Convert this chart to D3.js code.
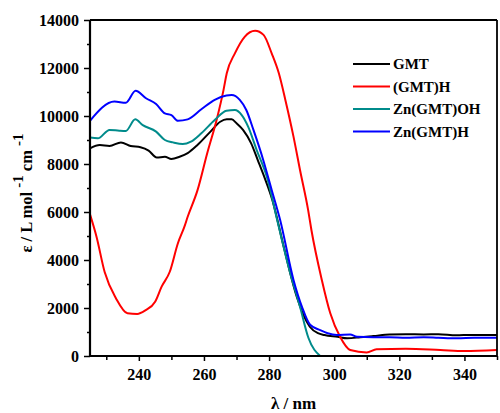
<!DOCTYPE html>
<html><head><meta charset="utf-8">
<script src="https://cdn.jsdelivr.net/npm/d3@7"></script>
<style>
body{margin:0;background:#fff;}
text{font-family:"Liberation Serif","Times New Roman",serif;font-weight:bold;}
</style></head>
<body><svg id="c" width="500" height="413"></svg>
<script>
// ---- data ----
const seriesNames = ["GMT", "(GMT)H", "Zn(GMT)OH", "Zn(GMT)H"];
const seriesColors = ["#000000", "#ff0000", "#008b8b", "#0000ff"];

const wlGMT  = [225,228,231,234.5,237.5,240.5,243,245.5,248,250,252.5,255,258,262,265,267,268.5,270,272,274.5,276.5,278.5,281,284.5,288.5,292.5,295,297,301,304,308,312,317,322,327.5,332,337.5,342,346,350];
const valGMT = [8650,8790,8750,8900,8750,8700,8560,8270,8300,8210,8300,8450,8790,9350,9760,9860,9860,9700,9420,8860,8170,7470,6500,4550,2470,1220,950,875,800,740,780,830,900,910,900,910,860,880,870,875];

const wlGMTH  = [225,227,229.5,233,236.5,239.5,242,245,247,249.5,252,254,255,258,261,264,266,267,269.5,272.5,275.7,278.3,280.8,283,285,287.5,289.5,292,293,296.2,298.8,301.8,304.9,310,313,322,332.6,340,350];
const valGMTH = [5900,4970,3500,2400,1780,1750,1900,2260,2890,3510,4700,5390,5800,6900,8450,9900,11080,11780,12610,13300,13550,13380,12610,11780,10670,9140,7750,6080,5250,3170,1780,800,250,150,280,300,250,210,250];

const wlZnOH  = [225,227.4,231,234,236,238.9,241.2,245.3,248,250.5,253.5,256,259.2,263.3,266.9,269.5,271.6,273.6,276.2,279.3,282.6,286.5,289.5,292.1,295.7];
const valZnOH = [9100,9070,9420,9390,9380,9860,9620,9350,9000,8900,8830,8930,9280,9830,10220,10250,10040,9550,8580,7470,5600,3450,2050,750,0];

const wlZnH  = [225,232.5,236,239,242.2,245.3,248,250,252,255,259.2,263.3,266.9,268.5,271,273,275.2,278.2,280.8,283.4,287.5,290.1,292.6,295.7,298,300.8,304.9,307,312,317,322,327.5,332,337.8,343,350];
const valZnH = [9800,10600,10550,11050,10740,10500,10110,10040,9800,9860,10280,10670,10850,10870,10670,10250,9420,8170,6920,5670,3170,2050,1300,1080,950,880,900,800,780,780,760,780,760,740,760,760];

const xTicks = [240,260,280,300,320,340];
const yTicks = [0,2000,4000,6000,8000,10000,12000,14000];

// ---- chart ----
const svg = d3.select("#c");
const L = 90, R = 497, T = 20, B = 356;
const x = d3.scaleLinear().domain([225,350]).range([L,R]);
const y = d3.scaleLinear().domain([0,14000]).range([B,T]);

const series = [
  {name: seriesNames[0], color: seriesColors[0], wl: wlGMT, v: valGMT},
  {name: seriesNames[1], color: seriesColors[1], wl: wlGMTH, v: valGMTH},
  {name: seriesNames[2], color: seriesColors[2], wl: wlZnOH, v: valZnOH},
  {name: seriesNames[3], color: seriesColors[3], wl: wlZnH, v: valZnH}
];

svg.append("clipPath").attr("id","clip").append("rect")
  .attr("x",L).attr("y",T).attr("width",R-L).attr("height",B-T);

const line = d3.line().x(d=>x(d[0])).y(d=>y(d[1])).curve(d3.curveMonotoneX);
const g = svg.append("g").attr("clip-path","url(#clip)");
series.forEach(s=>{
  g.append("path").datum(s.wl.map((w,i)=>[w,s.v[i]]))
   .attr("d",line).attr("fill","none").attr("stroke",s.color)
   .attr("stroke-width",2).attr("stroke-linejoin","round");
});

// x axis
const xMinor = d3.range(230,351,10).filter(v=>!xTicks.includes(v));
const xa = svg.append("g").attr("transform",`translate(0,${B})`);
xa.call(d3.axisBottom(x).tickValues(xTicks).tickSize(5).tickPadding(8).tickFormat(d3.format("d")));
xa.append("g").call(d3.axisBottom(x).tickValues(xMinor).tickSize(4).tickFormat(""));
xa.selectAll(".domain").remove();
xa.selectAll("line").attr("stroke","#000").attr("stroke-width",1.5);
xa.selectAll("text").attr("font-size",16).attr("fill","#000")
  .style("font-family","'Liberation Serif',serif").style("font-weight","bold");

// y axis
const yMinor = d3.range(1000,14000,2000);
const ya = svg.append("g").attr("transform",`translate(${L},0)`);
ya.call(d3.axisLeft(y).tickValues(yTicks).tickSize(6).tickPadding(5).tickFormat(d3.format("d")));
ya.append("g").call(d3.axisLeft(y).tickValues(yMinor).tickSize(3).tickFormat(""));
ya.selectAll(".domain").remove();
ya.selectAll("line").attr("stroke","#000").attr("stroke-width",1.5);
ya.selectAll("text").attr("font-size",16).attr("fill","#000")
  .style("font-family","'Liberation Serif',serif").style("font-weight","bold");

// frame
svg.append("line").attr("x1",L).attr("x2",L).attr("y1",T).attr("y2",B+1).attr("stroke","#000").attr("stroke-width",2.2);
svg.append("line").attr("x1",L-1).attr("x2",R).attr("y1",B).attr("y2",B).attr("stroke","#000").attr("stroke-width",2.2);
svg.append("line").attr("x1",L).attr("x2",R).attr("y1",T).attr("y2",T).attr("stroke","#000").attr("stroke-width",1.8);
svg.append("line").attr("x1",R).attr("x2",R).attr("y1",T).attr("y2",B).attr("stroke","#000").attr("stroke-width",1.8);

// axis titles
svg.append("text").attr("x",(L+R)/2).attr("y",409).attr("text-anchor","middle")
  .attr("font-size",17).text("λ / nm");

const yt = svg.append("text").attr("transform","translate(32,193) rotate(-90)")
  .attr("text-anchor","middle").attr("font-size",16.5);
yt.append("tspan").text("ε / L mol ");
yt.append("tspan").attr("dy",-9).attr("font-size",15).text("-1");
yt.append("tspan").attr("dy",9).text("  cm ");
yt.append("tspan").attr("dy",-9).attr("font-size",15).text("-1");

// legend
const lg = svg.append("g");
series.forEach((s,i)=>{
  const yy = 64 + i*22.5;
  lg.append("line").attr("x1",353).attr("x2",390).attr("y1",yy).attr("y2",yy)
    .attr("stroke",s.color).attr("stroke-width",2);
  lg.append("text").attr("x",393).attr("y",yy+5).attr("font-size",15).text(s.name);
});
</script></body></html>
